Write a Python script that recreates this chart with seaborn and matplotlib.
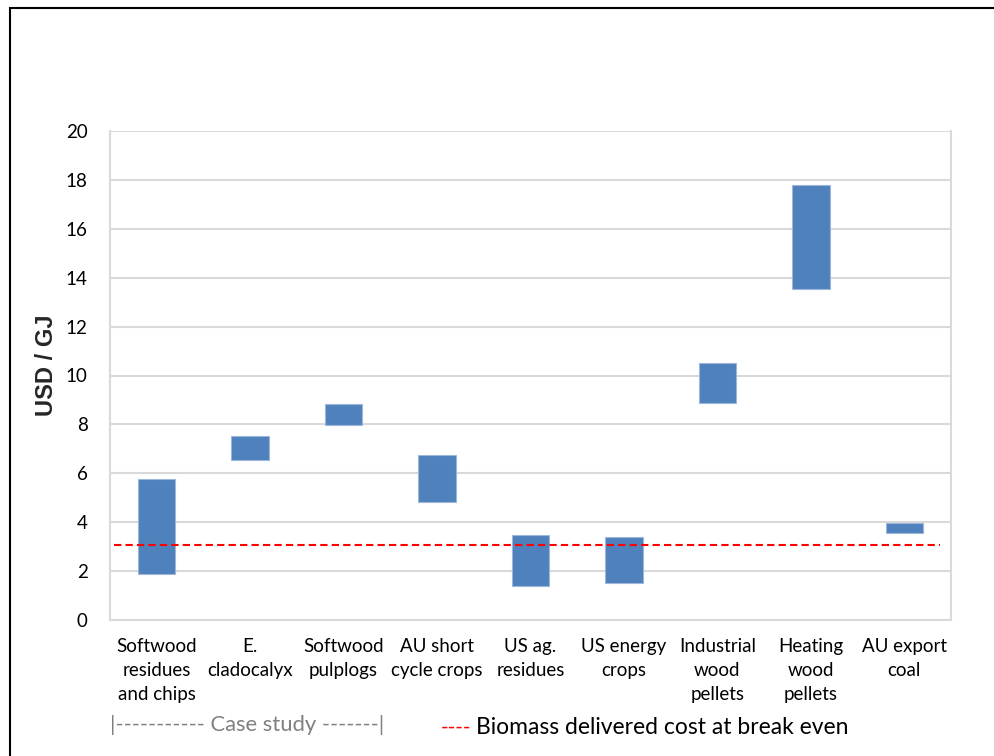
import matplotlib
matplotlib.use("Agg")
import matplotlib.pyplot as plt
import seaborn as sns
import pandas as pd
from matplotlib.patches import Rectangle

# Cost ranges (USD/GJ) for each feedstock
categories = [
    "Softwood\nresidues\nand chips",
    "E.\ncladocalyx",
    "Softwood\npulplogs",
    "AU short\ncycle crops",
    "US ag.\nresidues",
    "US energy\ncrops",
    "Industrial\nwood\npellets",
    "Heating\nwood\npellets",
    "AU export\ncoal",
]
low_cost = [1.88, 6.53, 7.97, 4.81, 1.39, 1.51, 8.86, 13.54, 3.55]
high_cost = [5.77, 7.53, 8.83, 6.73, 3.48, 3.39, 10.51, 17.79, 3.98]
break_even_cost = 3.07
y_ticks = [0, 2, 4, 6, 8, 10, 12, 14, 16, 18, 20]

df = pd.DataFrame({
    "feedstock": categories,
    "low": low_cost,
    "span": [h - l for h, l in zip(high_cost, low_cost)],
})

sns.set_theme(style="white")
plt.rcParams["font.family"] = ["Lato", "DejaVu Sans"]

fig = plt.figure(figsize=(9.94, 7.56), dpi=100)
ax = fig.add_axes([110 / 994, 136 / 756, 841 / 994, 489 / 756])

sns.barplot(data=df, x="feedstock", y="span", bottom=df["low"], color="#4F81BD",
            saturation=1, width=0.4, edgecolor="#9db7da", linewidth=0.8, ax=ax, zorder=3)

ax.plot([-0.46, 8.38], [break_even_cost, break_even_cost], color="#ff0000",
        linestyle=(0, (3.5, 2)), linewidth=1.5, zorder=4)

ax.set_ylim(0, 20)
ax.set_xlim(-0.5, 8.5)
ax.set_yticks(y_ticks)
ax.yaxis.grid(True, color="#d9d9d9", linewidth=1.5, zorder=0)
ax.set_axisbelow(True)
for side in ["left", "right", "bottom"]:
    ax.spines[side].set_color("#d9d9d9")
    ax.spines[side].set_linewidth(1.5)
ax.spines["top"].set_visible(False)

ax.tick_params(axis="y", length=0, pad=16, labelsize=13.5, labelcolor="black")
ax.tick_params(axis="x", length=0, pad=13, labelsize=13.5, labelcolor="black")
for t in ax.get_xticklabels():
    t.set_linespacing(1.5)
    t.set_horizontalalignment("center")

ax.set_xlabel("")
ax.set_ylabel("USD / GJ", fontsize=17, fontweight="bold",
              family=["Liberation Sans", "DejaVu Sans"])
ax.yaxis.set_label_coords(-52 / 841, 0.52)

# Notes beneath the category labels
fig.text(110 / 994, 1 - 725 / 756, "|----------- Case study -------|", color="#808080",
         fontsize=15.8, va="center", ha="left")
fig.text(441 / 994, 1 - 728 / 756, "----", color="#ff0000", fontsize=15,
         va="center", ha="left")
fig.text(476 / 994, 1 - 728 / 756, "Biomass delivered cost at break even", color="black",
         fontsize=16.5, va="center", ha="left")

# Frame around the chart area
fig.patches.append(Rectangle((10 / 994, -0.1), 1.2, 1 - 8 / 756 + 0.1,
                             transform=fig.transFigure, fill=False,
                             edgecolor="black", linewidth=1.5))

fig.savefig("out.png", dpi=100)
